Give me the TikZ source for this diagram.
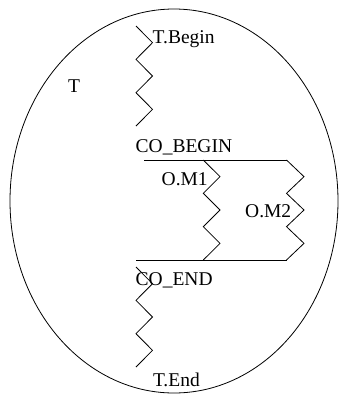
\documentclass[tikz,border=0pt]{standalone}
\usepackage{fontspec}
\setmainfont{Liberation Serif}
\usetikzlibrary{shapes.geometric}
\begin{document}
\begin{tikzpicture}[x=1pt,y=-1pt,
  lbl/.style={anchor=base west,inner sep=0pt,font=\fontsize{19.5}{22}\selectfont},
  ln/.style={line width=0.8pt,line join=miter}]
\useasboundingbox (0,0) rectangle (339,394);
\node[draw,ellipse,line width=0.8pt,minimum width=328pt,minimum height=384pt,inner sep=0pt] (E) at (174,201) {};
% labels
\node[lbl] (T) at (68,92) {T};
\node[lbl] (TB) at (152.5,43) {T.Begin};
\node[lbl] (COB) at (135.5,152.3) {CO\_BEGIN};
\node[lbl] (OM1) at (161.5,185) {O.M1};
\node[lbl] (OM2) at (245,217.3) {O.M2};
\node[lbl] (COE) at (135.5,285) {CO\_END};
\node[lbl] (TE) at (152.8,386.7) {T.End};
% anchor coordinates
\coordinate (tb0) at (136,26);
\coordinate (te0) at (136,267);
\coordinate (m10) at (203.3,160);
\coordinate (m20) at (286.5,160);
\coordinate (cb0) at (144,160);
\coordinate (ce0) at (136,260);
\coordinate (m1e) at (203.3,260);
\coordinate (m2e) at (286.5,260);
% zigzags
\draw[ln] (tb0) -- ++(16.5,16.67) -- ++(-16.5,16.67) -- ++(16.5,16.67) -- ++(-16.5,16.67) -- ++(16.5,16.67) -- ++(-16.5,16.67);
\draw[ln] (te0) -- ++(16.5,16.67) -- ++(-16.5,16.67) -- ++(16.5,16.67) -- ++(-16.5,16.67) -- ++(16.5,16.67) -- ++(-16.5,16.67);
\draw[ln] (m10) -- ++(16.7,16.67) -- ++(-16.7,16.67) -- ++(16.7,16.67) -- ++(-16.7,16.67) -- ++(16.7,16.67) -- (m1e);
\draw[ln] (m20) -- ++(17.5,16.67) -- ++(-17.5,16.67) -- ++(17.5,16.67) -- ++(-17.5,16.67) -- ++(17.5,16.67) -- (m2e);
% bars
\draw[ln] (cb0) -- (m20);
\draw[ln] (ce0) -- (m2e);
\end{tikzpicture}
\end{document}
